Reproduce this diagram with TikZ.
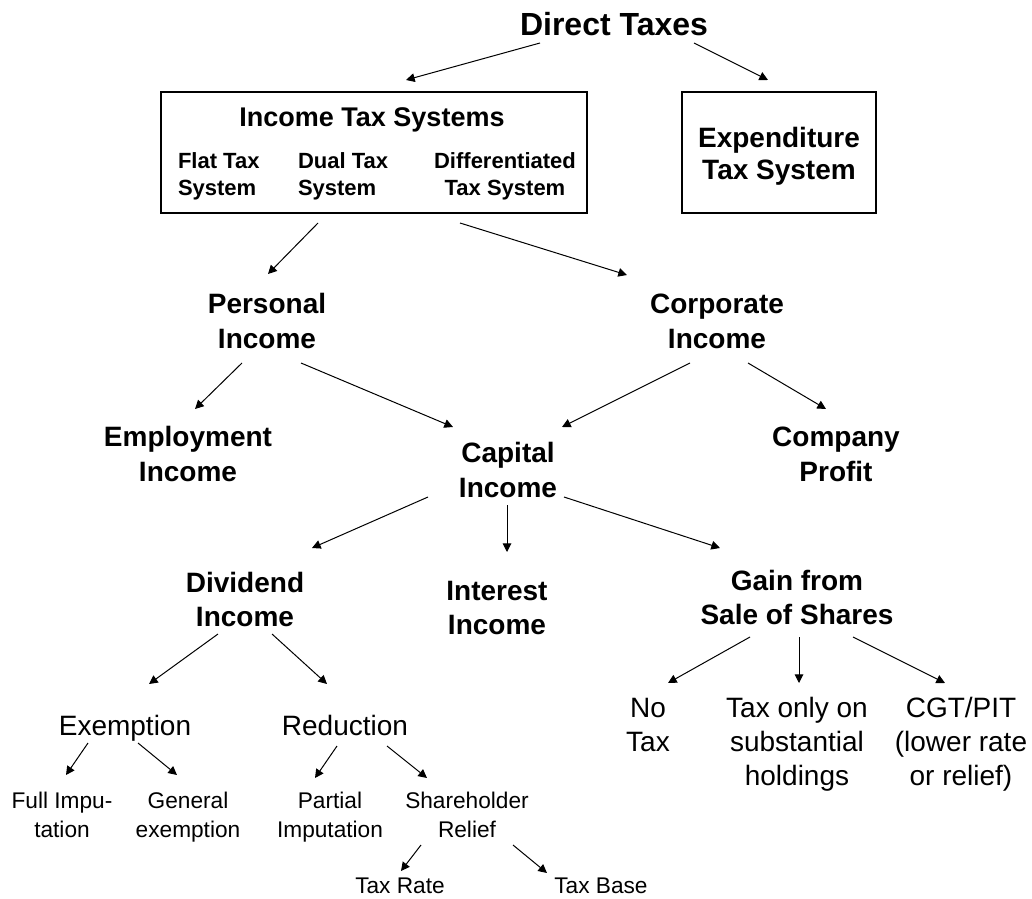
\documentclass[tikz,border=0pt]{standalone}
\usepackage{fontspec}
\setmainfont{Liberation Sans}
\usetikzlibrary{arrows.meta,calc}
\begin{document}
\begin{tikzpicture}[x=0.75pt,y=-0.75pt,
  every node/.style={inner sep=0pt,outer sep=0pt,anchor=base},
  arr/.style={line width=0.75pt,-{Triangle[length=6.5pt,width=6.5pt]}},
  boxnode/.style={draw,line width=1.1pt,anchor=center,minimum height=90.75pt},
  titlefont/.style={font=\fontsize{24}{28}\selectfont\bfseries},
  itsfont/.style={font=\fontsize{20.25}{24}\selectfont\bfseries},
  subfont/.style={font=\fontsize{16.5}{20.25}\selectfont\bfseries,align=left},
  subfontc/.style={font=\fontsize{16.5}{20.25}\selectfont\bfseries,align=center},
  expfont/.style={font=\fontsize{21}{24}\selectfont\bfseries,align=center},
  catfont/.style={font=\fontsize{21}{26.25}\selectfont\bfseries,align=center},
  catfontb/.style={font=\fontsize{21}{25.5}\selectfont\bfseries,align=center},
  regfont/.style={font=\fontsize{21}{25.5}\selectfont,align=center},
  smallfont/.style={font=\fontsize{17}{21.75}\selectfont,align=center}
]
\path[use as bounding box] (0,0) rectangle (1032,899);

% top (base anchor = baseline of the last line)
\node[titlefont] (dt) at (614,36) {Direct Taxes};

% boxes
\node[boxnode,minimum width=319.5pt] (ibox) at (374,152.5) {};
\node[boxnode,minimum width=145.5pt] (ebox) at (779,152.5) {};
\node[itsfont] (its) at (372,127) {Income Tax Systems};
\node[subfont,anchor=base west] (flat) at (178,195) {Flat Tax\\System};
\node[subfont,anchor=base west] (dual) at (298,195) {Dual Tax\\System};
\node[subfontc] (diff) at (505,195) {Differentiated\\Tax System};
\node[expfont] (exp) at (779,179) {Expenditure\\Tax System};

% second level
\node[catfont] (pers) at (267,348) {Personal\\Income};
\node[catfont] (corp) at (717,348) {Corporate\\Income};

% third level
\node[catfont] (empl) at (188,481) {Employment\\Income};
\node[catfont] (capi) at (508,497) {Capital\\Income};
\node[catfont] (comp) at (836,481) {Company\\Profit};

% fourth level
\node[catfontb] (divi) at (245,626) {Dividend\\Income};
\node[catfontb] (inte) at (497,634) {Interest\\Income};
\node[catfontb] (gain) at (797,624) {Gain from\\Sale of Shares};

% fifth level
\node[regfont] (exem) at (125,735) {Exemption};
\node[regfont] (redu) at (345,735) {Reduction};
\node[regfont] (notax) at (648,751) {No\\Tax};
\node[regfont] (subst) at (797,785) {Tax only on\\substantial\\holdings};
\node[regfont] (cgt) at (961,785) {CGT/PIT\\(lower rate\\or relief)};

% sixth level
\node[smallfont] (full) at (62,837) {Full Impu-\\tation};
\node[smallfont] (gene) at (188,837) {General\\exemption};
\node[smallfont] (part) at (330,837) {Partial\\Imputation};
\node[smallfont] (shar) at (467,837) {Shareholder\\Relief};
\node[smallfont] (rate) at (400,893) {Tax Rate};
\node[smallfont] (tbase) at (601,893) {Tax Base};

% connectors
\draw[arr] ($(dt.base)+(-74,7)$) -- ($(ibox.center)+(32,-72.5)$);
\draw[arr] ($(dt.base)+(80,7)$) -- ($(ebox.center)+(-11,-72.5)$);
\draw[arr] ($(ibox.center)+(-56,70.5)$) -- ($(pers.base)+(1,-74)$);
\draw[arr] ($(ibox.center)+(86,70.5)$) -- ($(corp.base)+(-90,-73)$);
\draw[arr] ($(pers.base)+(-25,15)$) -- ($(empl.base)+(7,-72)$);
\draw[arr] ($(pers.base)+(34,15)$) -- ($(capi.base)+(-55,-70)$);
\draw[arr] ($(corp.base)+(-27,15)$) -- ($(capi.base)+(54,-70)$);
\draw[arr] ($(corp.base)+(31,15)$) -- ($(comp.base)+(-10,-72)$);
\draw[arr] ($(capi.base)+(-80,0)$) -- ($(divi.base)+(67,-78)$);
\draw[arr] ($(capi.base)+(-1,8)$) -- ($(inte.base)+(10,-82)$);
\draw[arr] ($(capi.base)+(56,0)$) -- ($(gain.base)+(-77,-76)$);
\draw[arr] ($(divi.base)+(-27,8)$) -- ($(exem.base)+(24,-51)$);
\draw[arr] ($(divi.base)+(27,8)$) -- ($(redu.base)+(-18,-51)$);
\draw[arr] ($(exem.base)+(-37,8)$) -- ($(full.base)+(4,-62)$);
\draw[arr] ($(exem.base)+(13,8)$) -- ($(gene.base)+(-11,-62)$);
\draw[arr] ($(redu.base)+(-8,11)$) -- ($(part.base)+(-15,-59)$);
\draw[arr] ($(redu.base)+(42,11)$) -- ($(shar.base)+(-40,-59)$);
\draw[arr] ($(shar.base)+(-46,8)$) -- ($(rate.base)+(1,-22)$);
\draw[arr] ($(shar.base)+(46,8)$) -- ($(tbase.base)+(-54,-20)$);
\draw[arr] ($(gain.base)+(-47,13)$) -- ($(notax.base)+(20,-68)$);
\draw[arr] ($(gain.base)+(2,13)$) -- ($(subst.base)+(2,-102)$);
\draw[arr] ($(gain.base)+(56,13)$) -- ($(cgt.base)+(-16,-102)$);
\end{tikzpicture}
\end{document}
